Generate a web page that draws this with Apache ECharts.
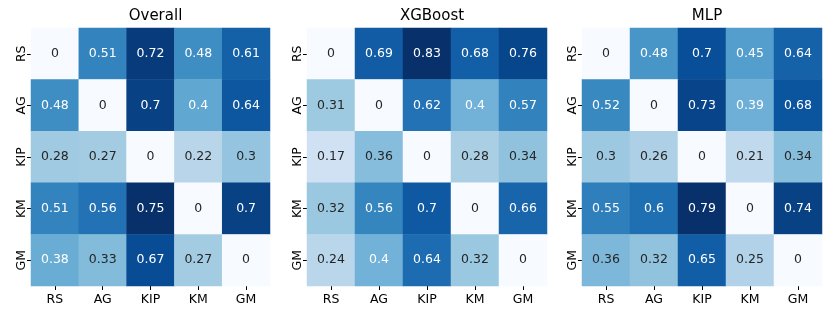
<!DOCTYPE html>
<html><head><meta charset="utf-8">
<script src="https://cdn.jsdelivr.net/npm/echarts@6/dist/echarts.min.js"></script>
<style>html,body{margin:0;padding:0;background:#fff}#c{width:831px;height:317px}</style>
</head><body><div id="c"></div>
<script>
const labels = ['RS', 'AG', 'KIP', 'KM', 'GM'];
const titles = ['Overall', 'XGBoost', 'MLP'];
const overall = [
  [0, 0.51, 0.72, 0.48, 0.61],
  [0.48, 0, 0.7, 0.4, 0.64],
  [0.28, 0.27, 0, 0.22, 0.3],
  [0.51, 0.56, 0.75, 0, 0.7],
  [0.38, 0.33, 0.67, 0.27, 0]
];
const xgboost = [
  [0, 0.69, 0.83, 0.68, 0.76],
  [0.31, 0, 0.62, 0.4, 0.57],
  [0.17, 0.36, 0, 0.28, 0.34],
  [0.32, 0.56, 0.7, 0, 0.66],
  [0.24, 0.4, 0.64, 0.32, 0]
];
const mlp = [
  [0, 0.48, 0.7, 0.45, 0.64],
  [0.52, 0, 0.73, 0.39, 0.68],
  [0.3, 0.26, 0, 0.21, 0.34],
  [0.55, 0.6, 0.79, 0, 0.74],
  [0.36, 0.32, 0.65, 0.25, 0]
];
const matrices = [overall, xgboost, mlp];

const blues = ['#f7fbff','#deebf7','#c6dbef','#9ecae1','#6baed6','#4292c6','#2171b5','#08519c','#08306b'];
function hexToRgb(h){return [parseInt(h.slice(1,3),16)/255,parseInt(h.slice(3,5),16)/255,parseInt(h.slice(5,7),16)/255];}
function cmap(t){
  t=Math.max(0,Math.min(1,t));
  const p=t*(blues.length-1);const i=Math.min(Math.floor(p),blues.length-2);const f=p-i;
  const a=hexToRgb(blues[i]),b=hexToRgb(blues[i+1]);
  return [0,1,2].map(k=>a[k]+(b[k]-a[k])*f);
}
function lum(c){
  const l=c.map(v=>v<=0.03928?v/12.92:Math.pow((v+0.055)/1.055,2.4));
  return 0.2126*l[0]+0.7152*l[1]+0.0722*l[2];
}

const grids=[{left:31,width:239},{left:307,width:240},{left:582,width:240}];
const option={
  animation:false,
  backgroundColor:'#fff',
  title:[],grid:[],xAxis:[],yAxis:[],series:[],visualMap:[]
};
matrices.forEach((m,gi)=>{
  let vmin=Infinity,vmax=-Infinity;
  m.forEach(r=>r.forEach(v=>{vmin=Math.min(vmin,v);vmax=Math.max(vmax,v);}));
  option.grid.push({left:grids[gi].left,width:grids[gi].width,top:28,height:258});
  option.title.push({text:titles[gi],left:grids[gi].left+grids[gi].width/2,top:4,textAlign:'center',
    textStyle:{fontFamily:'DejaVu Sans',fontSize:15,fontWeight:'normal',color:'#000'}});
  option.xAxis.push({type:'category',gridIndex:gi,data:labels,position:'bottom',
    axisLine:{show:false},axisTick:{show:true,alignWithLabel:true,length:4,lineStyle:{color:'#000',width:1}},
    axisLabel:{fontFamily:'DejaVu Sans',fontSize:12.5,color:'#000',margin:7},splitLine:{show:false}});
  option.yAxis.push({type:'category',gridIndex:gi,data:labels,inverse:true,
    axisLine:{show:false},axisTick:{show:true,alignWithLabel:true,length:4,lineStyle:{color:'#000',width:1}},
    axisLabel:{fontFamily:'DejaVu Sans',fontSize:12.5,color:'#000',rotate:90,margin:3},splitLine:{show:false}});
  option.visualMap.push({show:false,seriesIndex:gi,min:vmin,max:vmax,inRange:{color:blues}});
  const data=[];
  m.forEach((row,yi)=>row.forEach((v,xi)=>{
    const c=cmap((v-vmin)/(vmax-vmin));
    data.push({value:[xi,yi,v],label:{color:lum(c)>0.408?'#262626':'#ffffff'}});
  }));
  option.series.push({type:'heatmap',xAxisIndex:gi,yAxisIndex:gi,data:data,
    label:{show:true,fontFamily:'DejaVu Sans',fontSize:12.5,formatter:p=>String(p.value[2])},
    itemStyle:{borderWidth:0},emphasis:{disabled:true}});
});
const chart=echarts.init(document.getElementById('c'),null,{renderer:'canvas'});
chart.setOption(option);
</script></body></html>
